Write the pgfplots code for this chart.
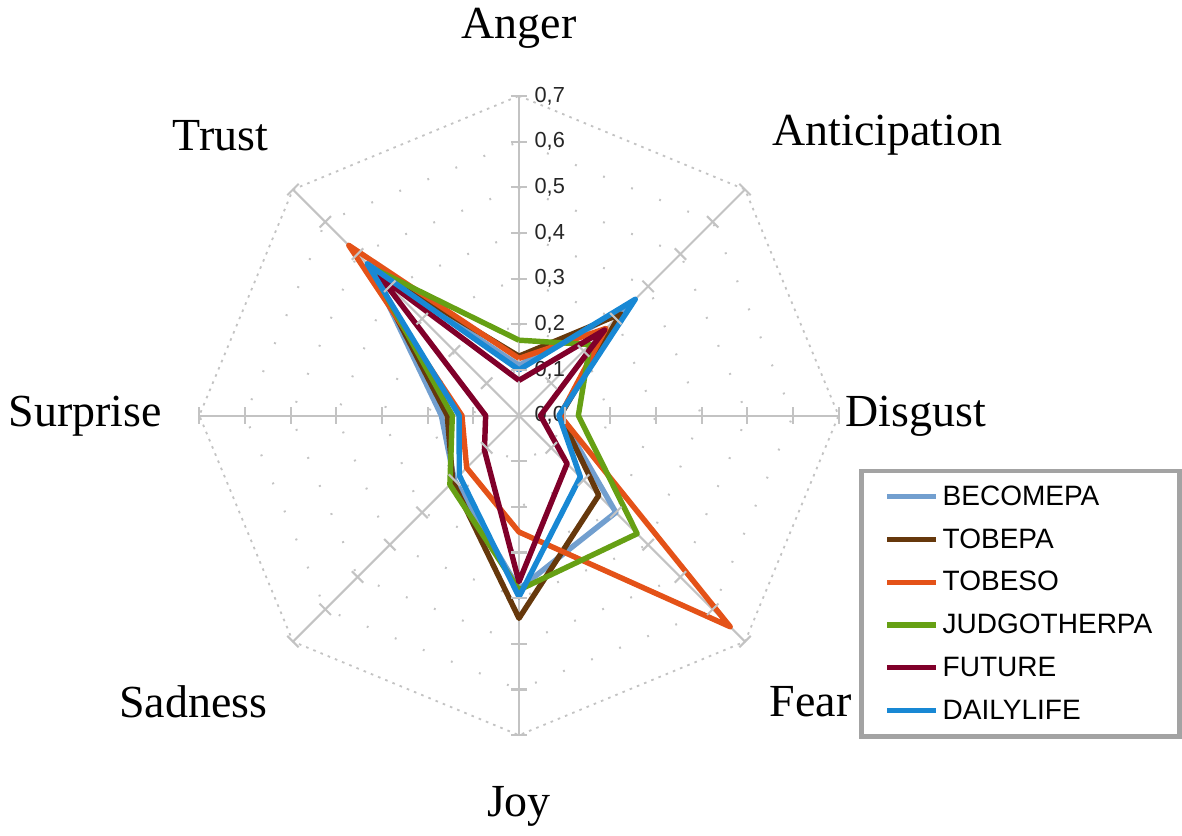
\documentclass[border=0pt]{standalone}
\usepackage{pgfplots}
\pgfplotsset{compat=1.18}
\usepackage{fontspec}
\setmainfont{Liberation Serif}
\newfontfamily\sans{Liberation Sans}
\definecolor{cBec}{RGB}{114,159,207}
\definecolor{cTpa}{RGB}{102,56,12}
\definecolor{cTso}{RGB}{228,82,24}
\definecolor{cJud}{RGB}{102,160,20}
\definecolor{cFut}{RGB}{128,0,42}
\definecolor{cDay}{RGB}{24,136,212}
\definecolor{cGrid}{RGB}{195,195,195}
\begin{document}
\begin{tikzpicture}
\begin{axis}[hide axis, scale only axis, width=16cm, height=11.2352cm,
  xmin=-1.1379, xmax=1.4486, ymin=-0.9037, ymax=0.9125, clip=false,
  legend style={at={(axis cs:0.744,-0.116)}, anchor=north west, draw=black!36, line width=1.9pt,
    font=\sans\fontsize{10.8}{13}\selectfont, row sep=5.8pt, inner xsep=9pt, inner ysep=4.5pt,
    cells={anchor=west}, nodes={inner sep=1.5pt, text height=0.72em, text depth=0.05em}},
  legend image code/.code={\draw[#1, line width=2pt] (0pt,0pt) -- (18.9pt,0pt);},
  every axis plot/.append style={line join=round}
]
% grid polygons
\pgfplotsinvokeforeach{0.1,0.2,0.3,0.4,0.5,0.6}{
\addplot[forget plot, cGrid, line width=0.8pt, dash pattern=on 0.7pt off 11pt, data cs=polar]
 coordinates {(90,#1)(45,#1)(0,#1)(-45,#1)(-90,#1)(-135,#1)(180,#1)(135,#1)(90,#1)};
}
\addplot[forget plot, cGrid, line width=0.7pt, dash pattern=on 1pt off 2pt, data cs=polar]
 coordinates {(90,0.7)(45,0.7)(0,0.7)(-45,0.7)(-90,0.7)(-135,0.7)(180,0.7)(135,0.7)(90,0.7)};
% spokes
\addplot[forget plot, cGrid, line width=0.8pt, data cs=polar] coordinates {(0,0.7)(180,0.7)};
\addplot[forget plot, cGrid, line width=0.8pt, data cs=polar] coordinates {(45,0.7)(225,0.7)};
\addplot[forget plot, cGrid, line width=0.8pt, data cs=polar] coordinates {(90,0.7)(270,0.7)};
\addplot[forget plot, cGrid, line width=0.8pt, data cs=polar] coordinates {(135,0.7)(315,0.7)};
% spoke ticks
\pgfplotsinvokeforeach{0,45,90,135,180,225,270,315}{
\addplot[forget plot, only marks, mark=|, mark size=3.1pt, cGrid, mark options={rotate=#1, line width=0.8pt}, data cs=polar]
 coordinates {(#1,0.1)(#1,0.2)(#1,0.3)(#1,0.4)(#1,0.5)(#1,0.6)(#1,0.7)};
}
% radial tick labels
\foreach \r/\t in {0/{0,0},0.1/{0,1},0.2/{0,2},0.3/{0,3},0.4/{0,4},0.5/{0,5},0.6/{0,6},0.7/{0,7}}{
\edef\temp{\noexpand\node[anchor=west, inner sep=0pt, font=\noexpand\sans\noexpand\fontsize{8.4}{9}\noexpand\selectfont, black!85] at (axis cs:0.033,\r) {\unexpanded\expandafter{\t}};}
\temp
}
% category labels
\node[font=\fontsize{17.7}{20}\selectfont] at (axis cs:0,0.847) {Anger};
\node[font=\fontsize{17.7}{20}\selectfont] at (axis cs:0.807,0.613) {Anticipation};
\node[font=\fontsize{17.7}{20}\selectfont] at (axis cs:0.869,-0.002) {Disgust};
\node[font=\fontsize{17.7}{20}\selectfont] at (axis cs:0.639,-0.626) {Fear};
\node[font=\fontsize{17.7}{20}\selectfont] at (axis cs:0,-0.856) {Joy};
\node[font=\fontsize{17.7}{20}\selectfont] at (axis cs:-0.713,-0.626) {Sadness};
\node[font=\fontsize{17.7}{20}\selectfont] at (axis cs:-0.950,-0.002) {Surprise};
\node[font=\fontsize{17.7}{20}\selectfont] at (axis cs:-0.654,0.613) {Trust};
% series: Anger, Anticipation, Disgust, Fear, Joy, Sadness, Surprise, Trust
\addplot[cBec, line width=2.1pt, data cs=polar] coordinates {(90,0.11)(45,0.33)(0,0.09)(-45,0.30)(-90,0.38)(-135,0.20)(180,0.17)(135,0.46)(90,0.11)};
\addlegendentry{BECOMEPA}
\addplot[cTpa, line width=2.1pt, data cs=polar] coordinates {(90,0.13)(45,0.315)(0,0.09)(-45,0.247)(-90,0.444)(-135,0.205)(180,0.157)(135,0.46)(90,0.13)};
\addlegendentry{TOBEPA}
\addplot[cTso, line width=2.1pt, data cs=polar] coordinates {(90,0.125)(45,0.27)(0,0.09)(-45,0.654)(-90,0.255)(-135,0.162)(180,0.125)(135,0.527)(90,0.125)};
\addlegendentry{TOBESO}
\addplot[cJud, line width=2.1pt, data cs=polar] coordinates {(90,0.165)(45,0.22)(0,0.13)(-45,0.366)(-90,0.382)(-135,0.214)(180,0.146)(135,0.46)(90,0.165)};
\addlegendentry{JUDGOTHERPA}
\addplot[cFut, line width=2.1pt, data cs=polar] coordinates {(90,0.077)(45,0.265)(0,0.047)(-45,0.149)(-90,0.364)(-135,0.107)(180,0.073)(135,0.431)(90,0.077)};
\addlegendentry{FUTURE}
\addplot[cDay, line width=2.1pt, data cs=polar] coordinates {(90,0.10)(45,0.36)(0,0.0875)(-45,0.19)(-90,0.397)(-135,0.185)(180,0.131)(135,0.47)(90,0.10)};
\addlegendentry{DAILYLIFE}
\end{axis}
\end{tikzpicture}
\end{document}
